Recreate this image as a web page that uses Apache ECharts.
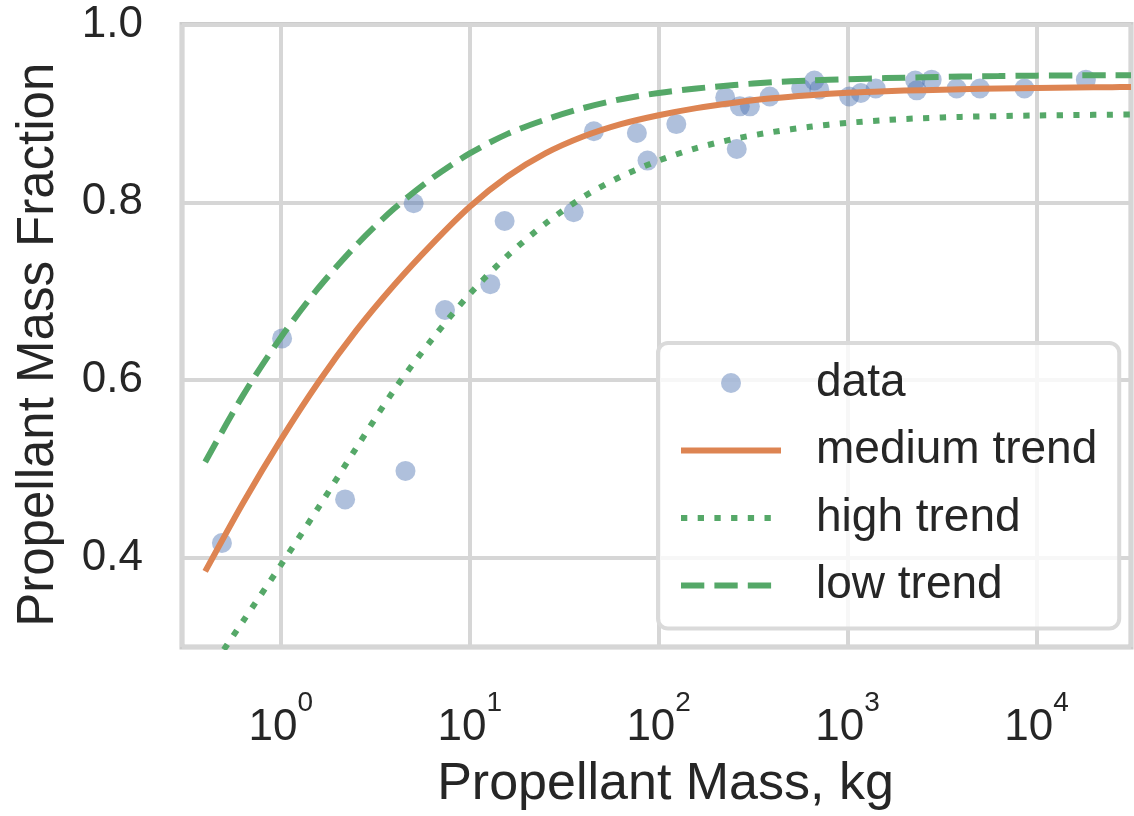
<!DOCTYPE html>
<html><head><meta charset="utf-8">
<script src="https://cdn.jsdelivr.net/npm/echarts@6/dist/echarts.min.js"></script>
<style>html,body{margin:0;padding:0;background:#fff}#c{width:1134px;height:816px}</style>
</head><body><div id="c"></div>
<script>
// ---- data ----
const dataMass = [0.488, 1.016, 2.19, 4.57, 5.05, 7.40, 12.85, 15.3, 35.5, 45.4, 76.7, 87.3, 124, 225, 259, 269, 304, 387, 568, 667, 708, 1019, 1175, 1409, 2280, 2323, 2786, 3776, 5012, 8630, 18240];
const dataFraction = [0.417, 0.647, 0.466, 0.498, 0.799, 0.679, 0.708, 0.779, 0.789, 0.880, 0.878, 0.847, 0.888, 0.918, 0.860, 0.908, 0.908, 0.919, 0.928, 0.937, 0.927, 0.919, 0.923, 0.928, 0.937, 0.926, 0.938, 0.928, 0.928, 0.928, 0.938];
const trendMass = [0.398, 0.631, 1, 1.585, 2.512, 3.981, 6.31, 10, 15.85, 25.12, 39.81, 63.1, 100, 158.5, 251.2, 398.1, 631, 1000, 1585, 2512, 3981, 6310, 10000, 15850, 25120, 31623];
const mediumTrend = [0.385, 0.462, 0.533, 0.598, 0.656, 0.707, 0.753, 0.795, 0.829, 0.855, 0.874, 0.888, 0.898, 0.906, 0.912, 0.917, 0.9205, 0.9232, 0.925, 0.9262, 0.9272, 0.928, 0.9286, 0.9291, 0.9295, 0.9297];
const highTrend = [0.266, 0.329, 0.392, 0.457, 0.524, 0.589, 0.646, 0.697, 0.740, 0.776, 0.806, 0.829, 0.847, 0.861, 0.8714, 0.879, 0.885, 0.8894, 0.8925, 0.8947, 0.8961, 0.897, 0.8977, 0.8982, 0.8986, 0.8988];
const lowTrend = [0.508, 0.583, 0.648, 0.704, 0.752, 0.793, 0.827, 0.855, 0.877, 0.893, 0.906, 0.916, 0.923, 0.928, 0.932, 0.935, 0.937, 0.9385, 0.9397, 0.9407, 0.9415, 0.942, 0.9425, 0.9428, 0.943, 0.943];
const xTickExponents = [0, 1, 2, 3, 4];
const yTickLabels = ['0.4', '0.6', '0.8', '1.0'];
const seriesNames = ['data', 'medium trend', 'high trend', 'low trend'];

const FONT = '"Liberation Sans", Arial, sans-serif';
const TXT = '#262626';
const pair = (ys) => trendMass.map((m, i) => [m, ys[i]]);

const chart = echarts.init(document.getElementById('c'), null, {renderer: 'canvas'});
chart.setOption({
  animation: false,
  backgroundColor: '#ffffff',
  grid: {left: 182, top: 24.5, bottom: 168, right: -5, show: true, borderColor: '#cccccc', borderWidth: 5, backgroundColor: 'transparent'},
  xAxis: {
    type: 'log', logBase: 10, min: 0.3, max: 31623,
    axisLine: {show: false}, axisTick: {show: false},
    splitLine: {show: true, lineStyle: {color: '#d6d6d6', width: 4}},
    axisLabel: {
      margin: 42,
      formatter: function (v) {
        const e = Math.log10(v);
        const r = Math.round(e);
        if (Math.abs(e - r) > 1e-6 || xTickExponents.indexOf(r) < 0) return '';
        return '{b|10}{s|' + r + '}';
      },
      rich: {
        b: {fontSize: 44, lineHeight: 78, color: TXT, fontFamily: FONT},
        s: {fontSize: 28, lineHeight: 28, verticalAlign: 'top', color: TXT, fontFamily: FONT}
      }
    },
    name: 'Propellant Mass, kg', nameLocation: 'middle', nameGap: 112,
    nameTextStyle: {fontSize: 52, color: TXT, fontFamily: FONT, padding: [0, 0, 0, 18]}
  },
  yAxis: {
    type: 'value', min: 0.3, max: 1.0, splitNumber: 3,
    axisLine: {show: false}, axisTick: {show: false},
    splitLine: {show: true, lineStyle: {color: '#d6d6d6', width: 4}},
    axisLabel: {
      margin: 39, fontSize: 44, color: TXT, fontFamily: FONT,
      formatter: function (v) {
        const s = v.toFixed(1);
        return yTickLabels.indexOf(s) >= 0 && Math.abs(v - parseFloat(s)) < 1e-6 ? s : '';
      }
    },
    name: 'Propellant Mass Fraction', nameLocation: 'middle', nameGap: 118,
    nameTextStyle: {fontSize: 51, color: TXT, fontFamily: FONT, padding: [0, 18, 0, 0]}
  },
  legend: {
    orient: 'vertical', left: 658, top: 343,
    padding: [17, 22, 20, 20],
    itemWidth: 100, itemHeight: 20, itemGap: 21.5,
    backgroundColor: 'rgba(255,255,255,0.8)', borderColor: '#dadada', borderWidth: 4, borderRadius: 10,
    textStyle: {fontSize: 46, color: TXT, fontFamily: FONT, padding: [0, 0, 0, 30]},
    lineStyle: {width: 6},
    data: [
      {name: seriesNames[0]},
      {name: seriesNames[1], itemStyle: {opacity: 0}},
      {name: seriesNames[2], itemStyle: {opacity: 0}},
      {name: seriesNames[3], itemStyle: {opacity: 0}}
    ]
  },
  series: [
    {
      name: seriesNames[0], type: 'scatter', symbol: 'circle', symbolSize: 20,
      itemStyle: {color: 'rgba(76,114,176,0.56)'},
      data: dataMass.map((m, i) => [m, dataFraction[i]]), z: 2
    },
    {
      name: seriesNames[1], type: 'line', symbol: 'none', smooth: 0.3,
      lineStyle: {color: '#dd8452', width: 6}, itemStyle: {color: '#dd8452'},
      data: pair(mediumTrend), z: 3
    },
    {
      name: seriesNames[2], type: 'line', symbol: 'none', smooth: 0.3,
      lineStyle: {color: '#55a868', width: 6, type: [6.3, 10.4]}, itemStyle: {color: '#55a868'},
      data: pair(highTrend), z: 3
    },
    {
      name: seriesNames[3], type: 'line', symbol: 'none', smooth: 0.3,
      lineStyle: {color: '#55a868', width: 6, type: [23.3, 10.1]}, itemStyle: {color: '#55a868'},
      data: pair(lowTrend), z: 3
    }
  ]
});
</script></body></html>
